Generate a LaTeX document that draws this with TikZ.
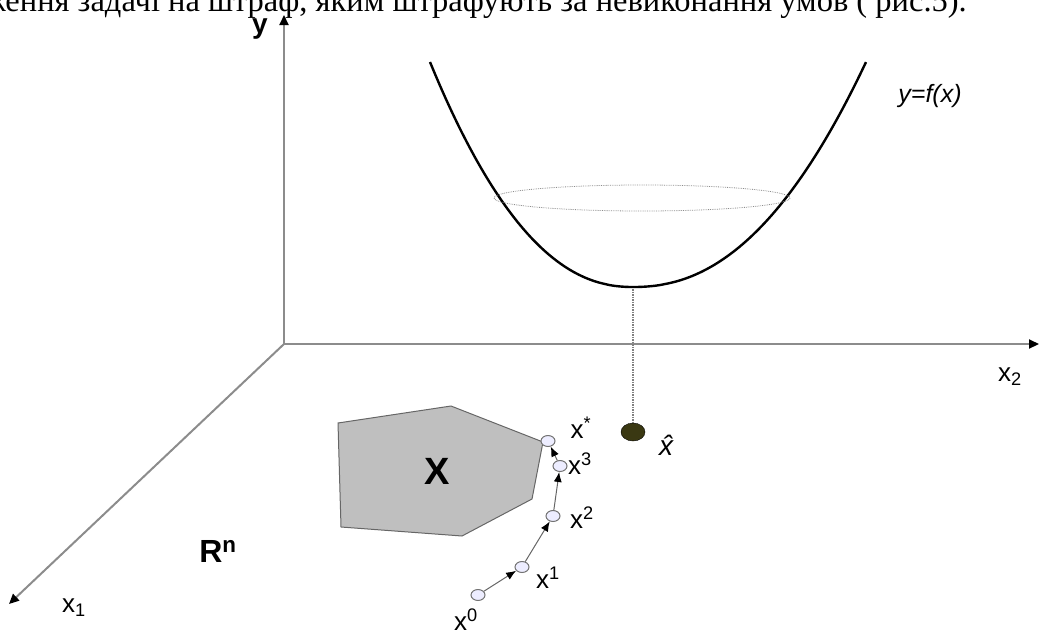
\documentclass[tikz,border=0pt]{standalone}
\usepackage{fontspec}
\setmainfont{Liberation Serif}
\setsansfont{Liberation Sans}
\usetikzlibrary{arrows.meta,shapes.geometric}

\definecolor{olivedot}{RGB}{58,56,18}
\tikzset{
  axisline/.style={black!45, line width=2pt, -{Triangle[color=black, length=10pt, width=9pt]}},
  iter/.style={ellipse, draw=black!55, fill=blue!7, line width=1pt, minimum width=14pt, minimum height=11pt, inner sep=0pt},
  stepline/.style={black!60, line width=1pt, -{Latex[color=black, length=10pt, width=8pt]}},
  lbl/.style={font=\sffamily\fontsize{26}{28}\selectfont, inner sep=0pt}
}

\begin{document}
\begin{tikzpicture}[x=1pt,y=-1pt]
\useasboundingbox (0,0) rectangle (1040,635);
% cut-off line of text above the figure
\node[anchor=base east, inner sep=0pt, font=\fontsize{32.5}{34}\selectfont] (cap) at (967,11) {ження задачі на штраф, яким штрафують за невиконання умов ( рис.5).};
% axes
\coordinate (O) at (284,344);
\coordinate (ytip) at (284,15);
\coordinate (x2tip) at (1039,344);
\coordinate (x1tip) at (9,604);
\draw[axisline] (O) -- (ytip);
\draw[axisline] (O) -- (x2tip);
\draw[axisline] (O) -- (x1tip);
\node[font=\sffamily\bfseries\fontsize{28}{30}\selectfont, inner sep=0pt] (ylbl) at (260,29) {y};
\node[font=\sffamily\fontsize{26}{28}\selectfont] (x2lbl) at (1010,377) {x\textsubscript{2}};
\node[font=\sffamily\fontsize{26}{28}\selectfont] (x1lbl) at (74,608) {x\textsubscript{1}};
% feasible set
\filldraw[fill=black!25, draw=black!60, line width=1pt] (338,423) -- (451,406) -- (543,442) -- (532,499) -- (462,536) -- (341,527) -- cycle;
\node[font=\sffamily\bfseries\fontsize{38}{40}\selectfont] (X) at (437,471) {X};
\node[font=\sffamily\bfseries\fontsize{32}{34}\selectfont] (Rn) at (218,551) {R\textsuperscript{n}};
% goal function
\draw[black, line width=2.4pt] plot[domain=-1:1, samples=80, smooth] ({633 + (\x<0 ? 203 : 233)*\x}, {287 - 225*abs(\x)^2.2});
\draw[black!45, densely dotted, line width=0.8pt] (642,198) ellipse [x radius=148, y radius=13];
\node[font=\sffamily\itshape\fontsize{25}{27}\selectfont] (fx) at (930,96) {y=f(x)};
\coordinate (vtx) at (633,289);
\node[ellipse, draw=black, fill=olivedot, minimum width=24pt, minimum height=18pt, inner sep=0pt] (xh) at (633,432) {};
\draw[black!50, densely dotted, line width=1.5pt] (vtx) -- (xh);
\node[font=\sffamily\itshape\fontsize{28}{30}\selectfont] (xhl) at (666,445) {\^x};
% iterations
\node[iter] (p0) at (478,595) {};
\node[iter] (p1) at (522,567) {};
\node[iter] (p2) at (553,516) {};
\node[iter] (p3) at (560,466) {};
\node[iter] (ps) at (548,441) {};
\draw[stepline] (p0) -- (p1);
\draw[stepline] (p1) -- (p2);
\draw[stepline] (p2) -- (p3);
\draw[stepline] (p3) -- (ps);
\node[lbl] (l0) at (466,620) {x\textsuperscript{0}};
\node[lbl] (l1) at (548,578) {x\textsuperscript{1}};
\node[lbl] (l2) at (582,518) {x\textsuperscript{2}};
\node[lbl] (l3) at (580,464) {x\textsuperscript{3}};
\node[lbl] (ls) at (581,428) {x\textsuperscript{*}};
\end{tikzpicture}
\end{document}
